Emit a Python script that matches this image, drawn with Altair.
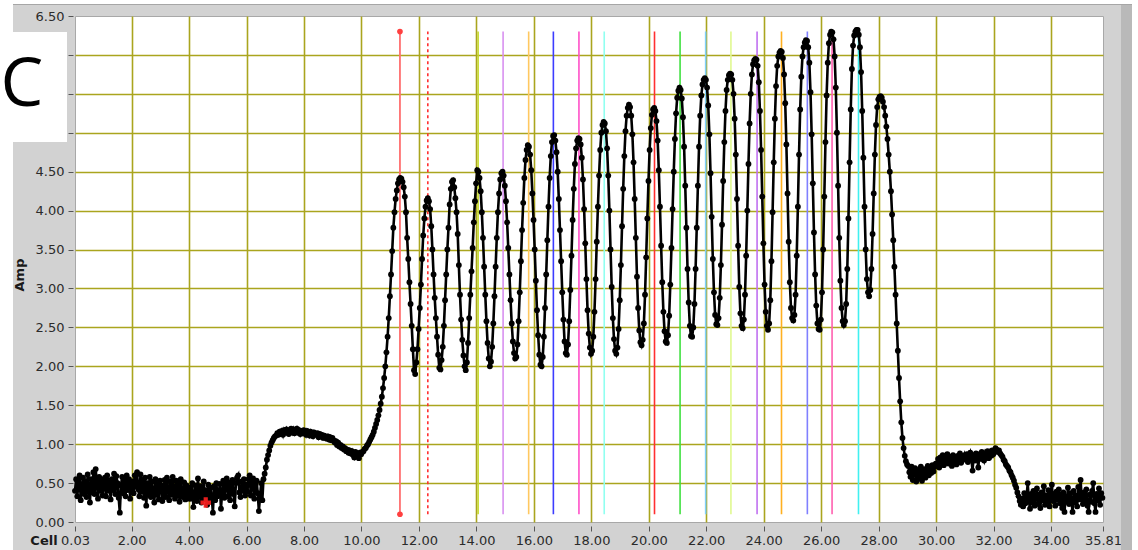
import altair as alt
import pandas as pd

# Waveform sampling: first cell and spacing between samples
X_START = 0.03
X_STEP = 0.04

# Amplitude samples, one row per unit of "Cell" (25 samples per row)
AMP_ROWS = [
    [0.40, 0.55, 0.33, 0.50, 0.60, 0.28, 0.46, 0.57, 0.36, 0.52, 0.32, 0.61, 0.44, 0.25, 0.55, 0.38, 0.64, 0.36, 0.68, 0.50, 0.30, 0.58, 0.40, 0.54, 0.34],
    [0.48, 0.57, 0.33, 0.60, 0.40, 0.53, 0.29, 0.55, 0.41, 0.62, 0.36, 0.59, 0.50, 0.31, 0.12, 0.47, 0.58, 0.37, 0.54, 0.33, 0.60, 0.41, 0.55, 0.30, 0.50],
    [0.52, 0.37, 0.60, 0.46, 0.64, 0.42, 0.33, 0.61, 0.39, 0.54, 0.31, 0.57, 0.21, 0.50, 0.36, 0.58, 0.32, 0.52, 0.38, 0.25, 0.55, 0.35, 0.49, 0.29, 0.53],
    [0.47, 0.27, 0.38, 0.54, 0.32, 0.57, 0.41, 0.28, 0.52, 0.35, 0.58, 0.40, 0.30, 0.53, 0.34, 0.49, 0.26, 0.55, 0.38, 0.32, 0.51, 0.29, 0.47, 0.35, 0.30],
    [0.44, 0.30, 0.50, 0.19, 0.34, 0.47, 0.27, 0.56, 0.32, 0.46, 0.25, 0.35, 0.52, 0.29, 0.41, 0.22, 0.48, 0.26, 0.44, 0.31, 0.12, 0.46, 0.28, 0.50, 0.33],
    [0.35, 0.49, 0.17, 0.37, 0.53, 0.31, 0.47, 0.56, 0.33, 0.51, 0.28, 0.46, 0.54, 0.36, 0.20, 0.50, 0.57, 0.60, 0.38, 0.32, 0.52, 0.40, 0.55, 0.34, 0.48],
    [0.39, 0.55, 0.60, 0.34, 0.50, 0.56, 0.30, 0.48, 0.53, 0.37, 0.14, 0.33, 0.50, 0.28, 0.55, 0.62, 0.70, 0.80, 0.86, 0.92, 0.98, 1.02, 1.05, 1.08, 1.10],
    [1.11, 1.14, 1.12, 1.16, 1.13, 1.17, 1.12, 1.18, 1.15, 1.19, 1.15, 1.13, 1.18, 1.20, 1.15, 1.19, 1.14, 1.17, 1.20, 1.15, 1.18, 1.13, 1.17, 1.14, 1.18],
    [1.16, 1.12, 1.17, 1.14, 1.11, 1.16, 1.13, 1.10, 1.15, 1.12, 1.13, 1.14, 1.09, 1.13, 1.10, 1.12, 1.08, 1.11, 1.09, 1.07, 1.10, 1.06, 1.09, 1.05, 1.08],
    [1.05, 1.02, 1.04, 0.99, 1.02, 0.97, 0.99, 0.95, 0.97, 0.93, 0.95, 0.91, 0.93, 0.89, 0.92, 0.88, 0.91, 0.86, 0.83, 0.90, 0.85, 0.88, 0.82, 0.89, 0.87],
    [0.90, 0.91, 0.94, 0.95, 0.98, 1.00, 1.03, 1.06, 1.09, 1.12, 1.16, 1.21, 1.26, 1.31, 1.37, 1.44, 1.52, 1.61, 1.72, 1.85, 2.00, 2.18, 2.38, 2.62, 2.90],
    [3.18, 3.48, 3.78, 3.98, 4.15, 4.26, 4.35, 4.40, 4.42, 4.41, 4.37, 4.30, 4.18, 3.98, 3.65, 3.38, 3.08, 2.80, 2.52, 2.22, 1.95, 1.90, 2.05, 2.22, 2.48],
    [2.75, 3.05, 3.38, 3.68, 3.90, 4.05, 4.13, 4.16, 4.12, 4.02, 3.80, 3.50, 3.18, 2.88, 2.62, 2.38, 2.15, 1.98, 1.96, 2.08, 2.25, 2.52, 2.85, 3.18, 3.50],
    [3.78, 4.08, 4.28, 4.37, 4.39, 4.30, 4.16, 3.98, 3.70, 3.30, 2.92, 2.60, 2.34, 2.14, 2.00, 1.95, 2.05, 2.30, 2.62, 2.92, 3.22, 3.52, 3.85, 4.12, 4.35],
    [4.52, 4.50, 4.42, 4.25, 3.98, 3.65, 3.28, 2.92, 2.58, 2.30, 2.10, 2.00, 2.06, 2.25, 2.55, 2.90, 3.28, 3.65, 3.98, 4.22, 4.40, 4.48, 4.50, 4.45, 4.32],
    [4.12, 3.85, 3.52, 3.18, 2.85, 2.55, 2.32, 2.17, 2.10, 2.12, 2.28, 2.58, 2.95, 3.35, 3.75, 4.10, 4.42, 4.65, 4.78, 4.84, 4.82, 4.72, 4.52, 4.22, 3.88],
    [3.50, 3.10, 2.72, 2.40, 2.15, 2.02, 2.00, 2.12, 2.38, 2.75, 3.18, 3.62, 4.05, 4.42, 4.70, 4.88, 4.96, 4.97, 4.90, 4.75, 4.50, 4.15, 3.75, 3.35, 2.95],
    [2.60, 2.32, 2.17, 2.15, 2.28, 2.58, 2.98, 3.42, 3.88, 4.28, 4.60, 4.80, 4.90, 4.93, 4.92, 4.85, 4.68, 4.40, 4.02, 3.58, 3.12, 2.72, 2.42, 2.24, 2.16],
    [2.20, 2.38, 2.70, 3.12, 3.60, 4.05, 4.45, 4.78, 5.00, 5.10, 5.14, 5.12, 5.02, 4.80, 4.45, 4.00, 3.50, 3.02, 2.62, 2.35, 2.20, 2.16, 2.24, 2.48, 2.85],
    [3.30, 3.80, 4.28, 4.70, 5.02, 5.22, 5.32, 5.36, 5.33, 5.22, 4.98, 4.62, 4.15, 3.65, 3.15, 2.75, 2.46, 2.31, 2.27, 2.34, 2.55, 2.92, 3.40, 3.90, 4.38],
    [4.78, 5.06, 5.23, 5.30, 5.32, 5.28, 5.15, 4.90, 4.52, 4.05, 3.55, 3.08, 2.70, 2.45, 2.32, 2.30, 2.40, 2.65, 3.05, 3.52, 4.02, 4.50, 4.92, 5.25, 5.45],
    [5.54, 5.58, 5.55, 5.44, 5.20, 4.82, 4.32, 3.78, 3.25, 2.82, 2.52, 2.39, 2.38, 2.50, 2.80, 3.25, 3.78, 4.32, 4.82, 5.22, 5.48, 5.62, 5.68, 5.70, 5.68],
    [5.58, 5.35, 4.98, 4.48, 3.92, 3.38, 2.95, 2.66, 2.54, 2.53, 2.62, 2.88, 3.30, 3.82, 4.38, 4.88, 5.28, 5.55, 5.68, 5.74, 5.76, 5.75, 5.68, 5.50, 5.18],
    [4.72, 4.15, 3.55, 3.02, 2.68, 2.52, 2.49, 2.60, 2.92, 3.42, 4.00, 4.60, 5.12, 5.50, 5.75, 5.88, 5.93, 5.95, 5.94, 5.86, 5.65, 5.28, 4.78, 4.18, 3.58],
    [3.05, 2.70, 2.52, 2.47, 2.55, 2.85, 3.35, 3.98, 4.62, 5.18, 5.60, 5.86, 5.98, 6.03, 6.05, 6.04, 5.96, 5.75, 5.38, 4.85, 4.22, 3.60, 3.08, 2.75, 2.62],
    [2.59, 2.66, 2.92, 3.42, 4.05, 4.72, 5.30, 5.72, 5.98, 6.10, 6.16, 6.19, 6.18, 6.10, 5.90, 5.52, 4.98, 4.35, 3.72, 3.18, 2.78, 2.55, 2.48, 2.47, 2.60],
    [2.95, 3.50, 4.18, 4.88, 5.48, 5.90, 6.15, 6.26, 6.30, 6.29, 6.20, 5.98, 5.58, 5.00, 4.32, 3.65, 3.10, 2.75, 2.58, 2.53, 2.58, 2.80, 3.25, 3.90, 4.62],
    [5.30, 5.82, 6.12, 6.25, 6.30, 6.32, 6.32, 6.26, 6.10, 5.78, 5.28, 4.68, 4.05, 3.50, 3.12, 2.95, 2.90, 2.98, 3.25, 3.70, 4.22, 4.72, 5.10, 5.33, 5.43],
    [5.46, 5.47, 5.45, 5.40, 5.33, 5.22, 5.08, 4.92, 4.72, 4.50, 4.25, 3.95, 3.62, 3.28, 2.92, 2.55, 2.20, 1.85, 1.55, 1.28, 1.08, 0.95, 0.85, 0.78, 0.74],
    [0.72, 0.64, 0.58, 0.71, 0.54, 0.65, 0.69, 0.52, 0.62, 0.67, 0.56, 0.71, 0.53, 0.63, 0.68, 0.57, 0.66, 0.72, 0.60, 0.69, 0.63, 0.73, 0.65, 0.71, 0.75],
    [0.75, 0.81, 0.70, 0.83, 0.77, 0.86, 0.73, 0.82, 0.78, 0.87, 0.75, 0.84, 0.80, 0.72, 0.86, 0.78, 0.83, 0.74, 0.85, 0.79, 0.88, 0.76, 0.84, 0.80, 0.86],
    [0.81, 0.87, 0.77, 0.85, 0.89, 0.80, 0.66, 0.86, 0.79, 0.88, 0.82, 0.70, 0.87, 0.81, 0.90, 0.83, 0.79, 0.88, 0.84, 0.91, 0.82, 0.89, 0.85, 0.92, 0.87],
    [0.92, 0.95, 0.93, 0.90, 0.92, 0.88, 0.86, 0.84, 0.80, 0.78, 0.74, 0.72, 0.70, 0.66, 0.64, 0.60, 0.57, 0.53, 0.48, 0.44, 0.38, 0.33, 0.27, 0.22, 0.30],
    [0.20, 0.37, 0.24, 0.33, 0.50, 0.27, 0.17, 0.36, 0.25, 0.40, 0.21, 0.31, 0.43, 0.23, 0.35, 0.18, 0.38, 0.28, 0.46, 0.22, 0.34, 0.26, 0.41, 0.20, 0.37],
    [0.48, 0.27, 0.36, 0.21, 0.39, 0.29, 0.42, 0.24, 0.35, 0.18, 0.38, 0.13, 0.33, 0.26, 0.44, 0.23, 0.37, 0.28, 0.13, 0.40, 0.25, 0.34, 0.20, 0.45, 0.29],
    [0.54, 0.30, 0.23, 0.38, 0.27, 0.42, 0.21, 0.13, 0.35, 0.26, 0.40, 0.50, 0.24, 0.13, 0.36, 0.28, 0.43, 0.22, 0.37, 0.31],
]

# Coloured cursors placed on the peaks
CURSOR_CELL = [14.06, 14.93, 15.82, 16.68, 17.57, 18.45, 20.20, 21.09, 21.98, 22.86, 23.77, 24.62, 25.52, 26.38, 27.30]
CURSOR_COLOR = ["#c4d82a", "#d890f0", "#ffc860", "#3c3cff", "#ff50c8", "#90fff0", "#ff3030", "#40e040",
                "#80d0f8", "#e0f890", "#c070f0", "#ffb020", "#8080ff", "#ff60b0", "#40f0f0"]
CURSOR_LOW = 0.10
CURSOR_HIGH = 6.30

# Main (solid, with end dots) and reference (dotted) cursors
MAIN_CURSOR_CELL = 11.34
REF_CURSOR_CELL = 12.31

# Red cross cursor on the baseline
CROSS_CELL = [4.58]
CROSS_AMP = [0.25]

X_TICKS = [0.03, 2, 4, 6, 8, 10, 12, 14, 16, 18, 20, 22, 24, 26, 28, 30, 32, 34, 35.81]
Y_TICKS = [0, 0.5, 1, 1.5, 2, 2.5, 3, 3.5, 4, 4.5, 5, 5.5, 6, 6.5]

GRID = "#aaa51e"
FONT = "DejaVu Sans"

amp = [v for row in AMP_ROWS for v in row]
cell = [round(X_START + X_STEP * i, 2) for i in range(len(amp))]
wave = pd.DataFrame({"cell": cell, "amp": amp})

cursors = pd.DataFrame({"cell": CURSOR_CELL, "color": CURSOR_COLOR,
                        "lo": [CURSOR_LOW] * len(CURSOR_CELL), "hi": [CURSOR_HIGH] * len(CURSOR_CELL)})
main_cursor = pd.DataFrame({"cell": [MAIN_CURSOR_CELL], "lo": [CURSOR_LOW], "hi": [CURSOR_HIGH]})
main_ends = pd.DataFrame({"cell": [MAIN_CURSOR_CELL, MAIN_CURSOR_CELL], "amp": [CURSOR_LOW, CURSOR_HIGH]})
ref_cursor = pd.DataFrame({"cell": [REF_CURSOR_CELL], "lo": [CURSOR_LOW], "hi": [CURSOR_HIGH]})
cross = pd.DataFrame({"cell": CROSS_CELL, "amp": CROSS_AMP})
one = pd.DataFrame({"t": ["C"]})

x_scale = alt.Scale(domain=[0.03, 35.81], nice=False, zero=False)
y_scale = alt.Scale(domain=[0, 6.5], nice=False, zero=False)

x_axis = alt.Axis(
    values=X_TICKS, format=".2f", title=None, labelFlush=False, labelOverlap=False,
    labelFont=FONT, labelFontSize=13, labelColor="#2b2b2b", labelPadding=3,
    tickColor="#555555", tickSize=5, offset=4, domain=False,
    grid=True, gridColor=GRID, gridWidth=1.6,
    gridOpacity={"condition": {"test": "datum.value < 1 || datum.value > 35", "value": 0}, "value": 1},
)
y_axis = alt.Axis(
    values=Y_TICKS, title=None, labelOverlap=False,
    labelExpr="datum.value > 4.9 && datum.value < 6.1 ? '' : format(datum.value, '.2f')",
    labelFont=FONT, labelFontSize=13, labelColor="#2b2b2b", labelPadding=4,
    tickColor="#555555", tickSize=5, offset=2, domain=False,
    grid=True, gridColor=GRID, gridWidth=1.6,
    gridOpacity={"condition": {"test": "datum.value < 0.1 || datum.value > 6.4", "value": 0}, "value": 1},
)

X = lambda field: alt.X(field, scale=x_scale, axis=x_axis)
Y = lambda field: alt.Y(field, scale=y_scale, axis=y_axis)

base = alt.Chart(wave)
line = base.mark_line(color="black", strokeWidth=2.6).encode(x=X("cell:Q"), y=Y("amp:Q"))
dots = base.mark_circle(color="black", size=34, opacity=1).encode(x=X("cell:Q"), y=Y("amp:Q"))

cursor_rules = alt.Chart(cursors).mark_rule(strokeWidth=1.6).encode(
    x=X("cell:Q"), y=Y("lo:Q"), y2="hi:Q", color=alt.Color("color:N", scale=None),
)
main_rule = alt.Chart(main_cursor).mark_rule(strokeWidth=1.8, color="#ff7070").encode(
    x=X("cell:Q"), y=Y("lo:Q"), y2="hi:Q"
)
main_dots = alt.Chart(main_ends).mark_circle(size=32, color="#ff4040", opacity=1).encode(
    x=X("cell:Q"), y=Y("amp:Q")
)
ref_rule = alt.Chart(ref_cursor).mark_rule(strokeWidth=1.6, color="#ff3030", strokeDash=[3, 3]).encode(
    x=X("cell:Q"), y=Y("lo:Q"), y2="hi:Q"
)
cross_mark = alt.Chart(cross).mark_point(shape="cross", filled=True, size=110, color="#ff2020", opacity=0.9).encode(
    x=X("cell:Q"), y=Y("amp:Q")
)

# Frame decoration around the plot panel
left_strip = alt.Chart(one).mark_rect(color="white").encode(
    x=alt.value(-75), x2=alt.value(-62), y=alt.value(-16), y2=alt.value(534)
)
top_strip = alt.Chart(one).mark_rect(color="white").encode(
    x=alt.value(-75), x2=alt.value(1063), y=alt.value(-16), y2=alt.value(-12)
)
top_line = alt.Chart(one).mark_rect(color="#a6a6a6").encode(
    x=alt.value(-62), x2=alt.value(1058), y=alt.value(-12), y2=alt.value(-11)
)
right_shade = alt.Chart(one).mark_rect(color="#b9b9b9").encode(
    x=alt.value(1046), x2=alt.value(1057), y=alt.value(-11), y2=alt.value(534)
)
right_strip = alt.Chart(one).mark_rect(color="white").encode(
    x=alt.value(1057), x2=alt.value(1063), y=alt.value(-16), y2=alt.value(534)
)
label_box = alt.Chart(one).mark_rect(color="white").encode(
    x=alt.value(-75), x2=alt.value(-8), y=alt.value(16), y2=alt.value(126)
)
label_c = alt.Chart(one).mark_text(font="Open Sans", fontSize=68, color="black", align="center", baseline="middle").encode(
    text="t:N", x=alt.value(-53), y=alt.value(70)
)
x_title = alt.Chart(pd.DataFrame({"t": ["Cell"]})).mark_text(
    font=FONT, fontSize=13, fontWeight="bold", color="#1a1a1a", align="center", baseline="middle"
).encode(text="t:N", x=alt.value(-31), y=alt.value(525))
y_title = alt.Chart(pd.DataFrame({"t": ["Amp"]})).mark_text(
    font=FONT, fontSize=13, fontWeight="bold", color="#1a1a1a", align="center", baseline="middle", angle=270
).encode(text="t:N", x=alt.value(-55), y=alt.value(259))

chart = alt.layer(
    cursor_rules, main_rule, ref_rule, line, dots, main_dots, cross_mark,
    left_strip, top_strip, top_line, right_shade, right_strip, label_box, label_c, x_title, y_title,
).properties(
    width=1028, height=506,
    padding={"left": 75, "top": 16, "right": 35, "bottom": 28},
    autosize="none",
    background="#d2d2d2",
).configure_view(fill="white", stroke="#a8a8a8", strokeWidth=1)

chart.save("out.html", embed_options={"renderer": "svg", "actions": False})
